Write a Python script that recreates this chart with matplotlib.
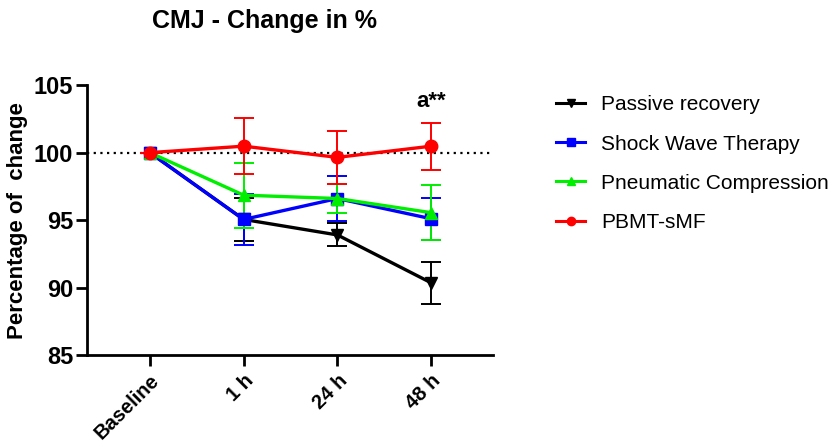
import matplotlib
matplotlib.use("Agg")
import matplotlib.pyplot as plt
from matplotlib.lines import Line2D

plt.rcParams['font.family'] = ['Liberation Sans', 'DejaVu Sans']

categories = ["Baseline", "1 h", "24 h", "48 h"]
series_names = ["Passive recovery", "Shock Wave Therapy", "Pneumatic Compression", "PBMT-sMF"]
passive = [100.0, 95.05, 93.9, 90.35]
passive_err = [0.0, 1.6, 0.85, 1.55]
shock = [100.0, 95.05, 96.6, 95.1]
shock_err = [0.0, 1.9, 1.7, 1.55]
pneumatic = [100.0, 96.85, 96.6, 95.55]
pneumatic_err = [0.0, 2.4, 1.1, 2.05]
pbmt = [100.0, 100.48, 99.65, 100.48]
pbmt_err = [0.0, 2.1, 1.95, 1.73]
yticks = [85, 90, 95, 100, 105]

fig = plt.figure(figsize=(8.4, 4.46), dpi=100)
ax = fig.add_axes([0.1036, 0.204, 0.4834, 0.605])

x = list(range(len(categories)))
styles = [
    (passive, passive_err, "black", "v", 8),
    (shock, shock_err, "#0000ff", "s", 8),
    (pneumatic, pneumatic_err, "#00ee00", "^", 8),
    (pbmt, pbmt_err, "#ff0000", "o", 9),
]
ax.axhline(100, color="black", linestyle=(0, (1, 2)), linewidth=1.6, zorder=1)
handles = []
for (vals, errs, col, mk, ms), name in zip(styles, series_names):
    ax.errorbar(x, vals, yerr=errs, color=col, marker=mk, markersize=ms,
                linewidth=2.4, elinewidth=1.4, capsize=7, capthick=1.4,
                zorder=3)
    handles.append(Line2D([], [], color=col, marker=mk, markersize=6, linewidth=2.2))

ax.set_xlim(-0.67, 3.66)
ax.set_ylim(85, 105)
ax.set_yticks(yticks)
ax.set_xticks(x)
ax.set_xticklabels(categories, rotation=45, ha="right", rotation_mode="anchor",
                   fontsize=14.5, fontweight="bold")
for lab in ax.get_yticklabels():
    lab.set_fontsize(17)
    lab.set_fontweight("bold")
ax.spines["top"].set_visible(False)
ax.spines["right"].set_visible(False)
ax.spines["left"].set_linewidth(2)
ax.spines["bottom"].set_linewidth(2)
ax.tick_params(width=2, length=8, direction="out")
ax.tick_params(axis="y", pad=2)
ax.set_ylabel("Percentage of  change", fontsize=16, fontweight="bold", labelpad=4)
ax.text(3, 103.0, "a**", ha="center", va="bottom", fontsize=16, fontweight="bold")
fig.text(0.315, 0.952, "CMJ - Change in %", ha="center", va="center",
         fontsize=18, fontweight="bold")

leg = fig.legend(handles=handles, labels=series_names, loc="upper left",
                 bbox_to_anchor=(0.652, 0.805), frameon=False, fontsize=15,
                 handlelength=1.4, labelspacing=0.97, handletextpad=0.75,
                 borderaxespad=0)

fig.savefig("out.png", dpi=100)
